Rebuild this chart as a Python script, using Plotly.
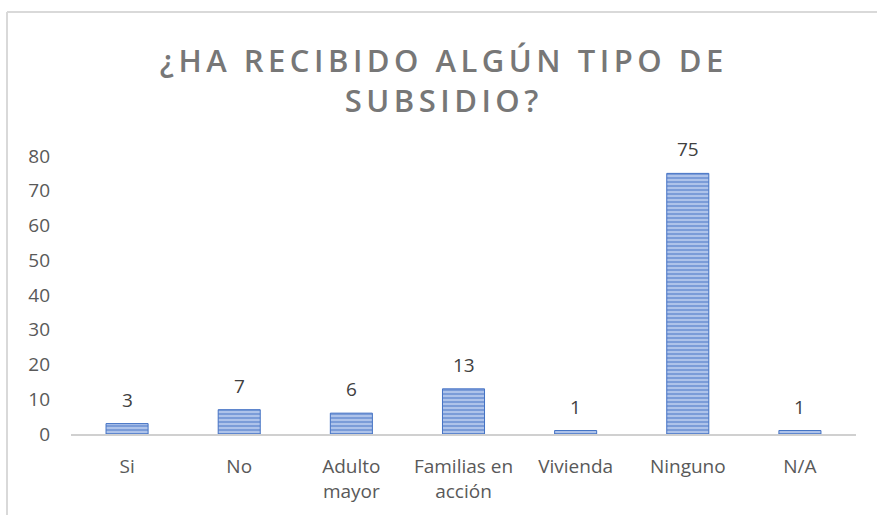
import plotly.graph_objects as go

categories = ["Si", "No", "Adulto mayor", "Familias en acción", "Vivienda", "Ninguno", "N/A"]
tick_labels = ["Si", "No", "Adulto<br>mayor", "Familias en<br>acción", "Vivienda", "Ninguno", "N/A"]
values = [3, 7, 6, 13, 1, 75, 1]

W, H = 877, 515
ML, MR, MT, MB = 71, 21, 156, 81
pw, ph = W - ML - MR, H - MT - MB

fig = go.Figure()

fig.add_trace(go.Bar(
    x=categories, y=values,
    width=0.375,
    marker=dict(
        color="#4472c4",
        line=dict(color="#4472c4", width=1),
        pattern=dict(shape="-", fgcolor="#4472c4", bgcolor="#b3c7ec",
                     size=4, solidity=0.55, fillmode="overlay"),
    ),
    hoverinfo="x+y",
))

# data labels above bars
for c, v in zip(categories, values):
    fig.add_annotation(x=c, y=v, text=str(v), showarrow=False,
                       yanchor="bottom", yshift=9,
                       font=dict(family="Open Sans", size=19, color="#404040"))

# chart frame, only top and left edges are visible in the source
fx = (7 - ML) / pw
fy = (H - MB - 12) / ph
fig.add_shape(type="line", xref="paper", yref="paper",
              x0=fx, x1=(W + 5 - ML) / pw, y0=fy, y1=fy,
              line=dict(color="#d9d9d9", width=2))
fig.add_shape(type="line", xref="paper", yref="paper",
              x0=fx, x1=fx, y0=fy, y1=-(MB + 5) / ph,
              line=dict(color="#d9d9d9", width=2))

fig.update_layout(
    width=W, height=H,
    margin=dict(l=ML, r=MR, t=MT, b=MB),
    paper_bgcolor="white", plot_bgcolor="white",
    showlegend=False,
    bargap=0.625,
    title=dict(text="¿HA RECIBIDO ALGÚN TIPO DE<br>SUBSIDIO?",
               x=0.506, xref="container", xanchor="center",
               y=1 - 72 / H, yref="container", yanchor="top",
               font=dict(family="Open Sans", size=31, color="#777777", weight=600)),
)

fig.update_xaxes(
    tickvals=categories, ticktext=tick_labels,
    showline=True, linecolor="#d0d0d0", linewidth=2,
    showgrid=False, ticks="", ticklabelstandoff=14,
    tickfont=dict(family="Open Sans", size=19, color="#595959"),
)
fig.update_yaxes(
    range=[0, 80], dtick=10,
    showline=False, showgrid=False, zeroline=False,
    ticklabelstandoff=20,
    tickfont=dict(family="Open Sans", size=19, color="#595959"),
)

fig.write_html("out.html", config={"displayModeBar": False}, post_script="""
document.body.style.margin = '0';
var t = document.querySelector('.gtitle');
if (t) { t.style.letterSpacing = '4.5px'; }
""")
